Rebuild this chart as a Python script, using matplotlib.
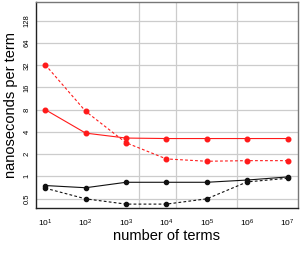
import matplotlib
matplotlib.use("Agg")
import matplotlib.pyplot as plt

plt.rcParams['font.family'] = ['Liberation Sans', 'DejaVu Sans']
plt.rcParams['mathtext.fontset'] = 'custom'
plt.rcParams['mathtext.rm'] = 'Liberation Sans'
plt.rcParams['mathtext.it'] = 'Liberation Sans'

# number of terms (log10 exponents) and timings in ns per term
EXPONENTS = [1, 2, 3, 4, 5, 6, 7]
N_TERMS = [10 ** e for e in EXPONENTS]
red_solid = [8.0, 3.85, 3.3, 3.25, 3.25, 3.25, 3.25]
red_dashed = [32.5, 7.6, 2.85, 1.72, 1.6, 1.63, 1.63]
black_solid = [0.75, 0.70, 0.83, 0.83, 0.83, 0.89, 0.98]
black_dashed = [0.69, 0.495, 0.42, 0.42, 0.495, 0.84, 0.94]

Y_TICKS = [0.5, 1, 2, 4, 8, 16, 32, 64, 128]
Y_TICK_LABELS = ["0.5", "1", "2", "4", "8", "16", "32", "64", "128"]
X_GRID = [10 ** 3.33, 10 ** 4.23, 10 ** 5.74]

fig = plt.figure(figsize=(3.0, 2.57), dpi=100)
ax = fig.add_axes([0.12, 0.19, 0.872, 0.802])

ax.set_xscale('log')
ax.set_yscale('log', base=2)
ax.set_xlim(10 ** 0.77, 10 ** 7.25)
ax.set_ylim(0.37, 230)

for y in Y_TICKS:
    ax.axhline(y, color='#cccccc', lw=0.9, zorder=0)
for x in X_GRID:
    ax.axvline(x, color='#cccccc', lw=0.9, zorder=0)

ax.plot(N_TERMS, red_solid, '-o', color='#ff1a1a', lw=0.8, ms=3.3)
ax.plot(N_TERMS, red_dashed, '--o', color='#ff1a1a', lw=0.8, ms=3.3, dashes=(2.5, 2))
ax.plot(N_TERMS, black_solid, '-o', color='#111111', lw=0.8, ms=3)
ax.plot(N_TERMS, black_dashed, '--o', color='#111111', lw=0.8, ms=3, dashes=(2.5, 2))

ax.set_yticks(Y_TICKS)
ax.set_yticklabels(Y_TICK_LABELS, rotation=90, va='center', fontsize=5.5)
ax.set_xticks(N_TERMS)
ax.set_xticklabels([f"$10^{{{e}}}$" for e in EXPONENTS], fontsize=6)
ax.minorticks_off()
ax.tick_params(axis='y', length=0, pad=4)
ax.tick_params(axis='x', length=0, pad=7)

for side in ['top', 'right']:
    ax.spines[side].set_color('#777777')
for side in ['left', 'bottom']:
    ax.spines[side].set_color('#222222')
for s in ax.spines.values():
    s.set_linewidth(1.0)

ax.set_xlabel('number of terms', fontsize=10.5, labelpad=0)
ax.set_ylabel('nanoseconds per term', fontsize=10.5, labelpad=4)

fig.savefig('out.png', dpi=100)
